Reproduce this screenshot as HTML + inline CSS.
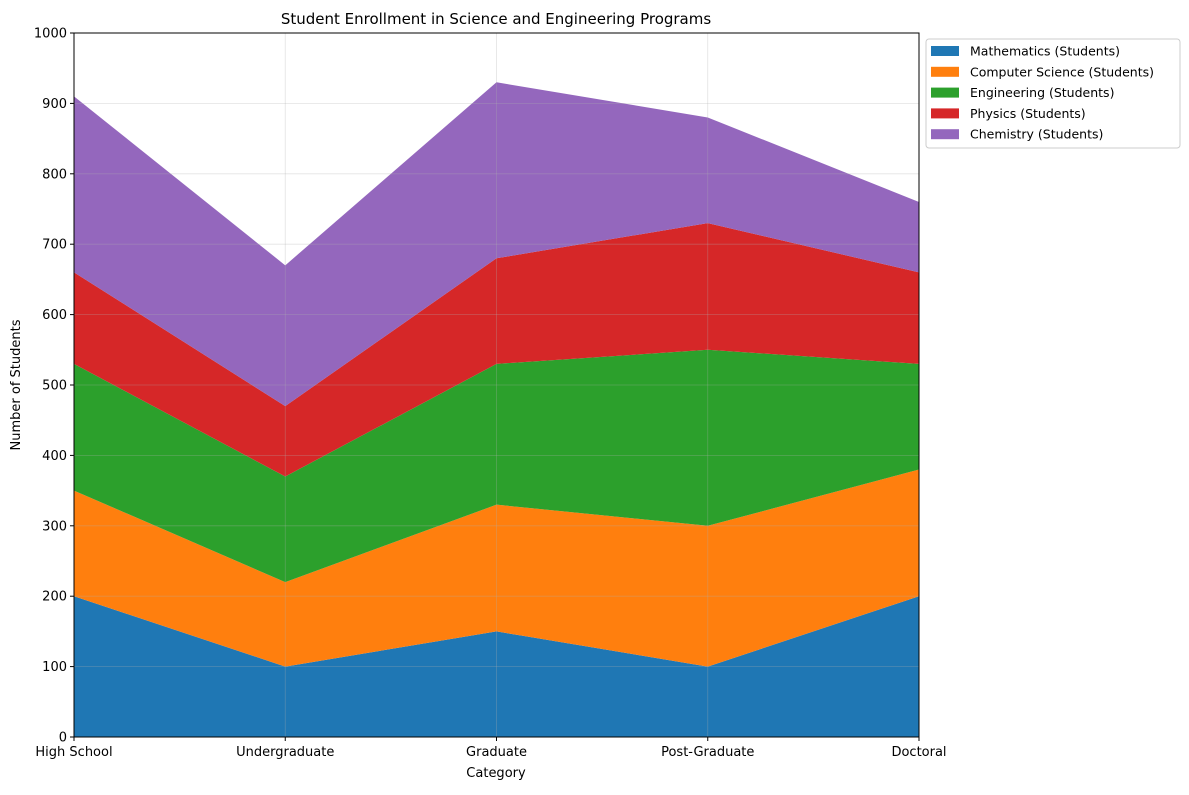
<!DOCTYPE html>
<html><head><meta charset="utf-8"><style>
body{margin:0;background:#fff;}
svg text{font-family:"DejaVu Sans","Liberation Sans",sans-serif;fill:#000;}
</style></head><body>
<svg id="chart" width="1189" height="790" xmlns="http://www.w3.org/2000/svg">
<rect width="1189" height="790" fill="#fff"/>
<g id="areas"></g>
<g id="grid"></g>
<rect x="74" y="33" width="845" height="704" fill="none" stroke="#000" stroke-width="1"/>
<g id="axes"></g>
<text x="496" y="24" font-size="15" text-anchor="middle">Student Enrollment in Science and Engineering Programs</text>
<text x="496" y="777" font-size="13" text-anchor="middle">Category</text>
<text x="20" y="385" font-size="13" text-anchor="middle" transform="rotate(-90 20 385)">Number of Students</text>
<g id="legend">
<rect x="926" y="39" width="254" height="109" rx="3" fill="#fff" stroke="#ccc"/>
</g>
</svg>
<script>
const categories=["High School","Undergraduate","Graduate","Post-Graduate","Doctoral"];
const seriesNames=["Mathematics (Students)","Computer Science (Students)","Engineering (Students)","Physics (Students)","Chemistry (Students)"];
const mathematics=[200,100,150,100,200];
const computerScience=[150,120,180,200,180];
const engineering=[180,150,200,250,150];
const physics=[130,100,150,180,130];
const chemistry=[250,200,250,150,100];
const yTicks=[0,100,200,300,400,500,600,700,800,900,1000];
const colors=["#1f77b4","#ff7f0e","#2ca02c","#d62728","#9467bd"];
const NS="http://www.w3.org/2000/svg";
const X0=74,X1=919,Y0=737,Y1=33;
const xs=i=>X0+(X1-X0)*i/(categories.length-1);
const ys=v=>Y0-(Y0-Y1)*v/1000;
function mk(t,a,p){const e=document.createElementNS(NS,t);for(const k in a)e.setAttribute(k,a[k]);p.appendChild(e);return e;}
const series=[mathematics,computerScience,engineering,physics,chemistry];
let base=categories.map(()=>0);
const areas=document.getElementById('areas');
series.forEach((s,si)=>{
  const top=base.map((b,i)=>b+s[i]);
  let d="M"+top.map((v,i)=>xs(i)+","+ys(v)).join(" L");
  for(let i=categories.length-1;i>=0;i--)d+=" L"+xs(i)+","+ys(base[i]);
  d+=" Z";
  const p=mk('path',{d:d,fill:colors[si]},areas);
  
  
  base=top;
});
const grid=document.getElementById('grid'),axes=document.getElementById('axes');
yTicks.forEach(t=>{
  const l=mk('line',{x1:X0,x2:X1,y1:ys(t),y2:ys(t),stroke:"#b0b0b0","stroke-opacity":0.35,"stroke-width":0.8},grid);
  
  
  const tk=mk('line',{x1:X0-4,x2:X0,y1:ys(t),y2:ys(t),stroke:"#000"},axes);
  
  
  const tx=mk('text',{x:X0-7,y:ys(t)+4.5,"font-size":13,"text-anchor":"end"},axes);
  tx.textContent=t;
  
  
});
categories.forEach((c,i)=>{
  const l=mk('line',{x1:xs(i),x2:xs(i),y1:Y1,y2:Y0,stroke:"#b0b0b0","stroke-opacity":0.35,"stroke-width":0.8},grid);
  
  
  const tk=mk('line',{x1:xs(i),x2:xs(i),y1:Y0,y2:Y0+4,stroke:"#000"},axes);
  
  
  const tx=mk('text',{x:xs(i),y:Y0+19,"font-size":13,"text-anchor":"middle"},axes);
  tx.textContent=c;
  
  
});
const lg=document.getElementById('legend');
seriesNames.forEach((n,i)=>{
  const y=51+i*20.8;
  const r=mk('rect',{x:931,y:y-5,width:28,height:10,fill:colors[i]},lg);
  
  
  const t=mk('text',{x:970,y:y+4.5,"font-size":12.5},lg);
  t.textContent=n;
  
  
});
</script>
</body></html>
